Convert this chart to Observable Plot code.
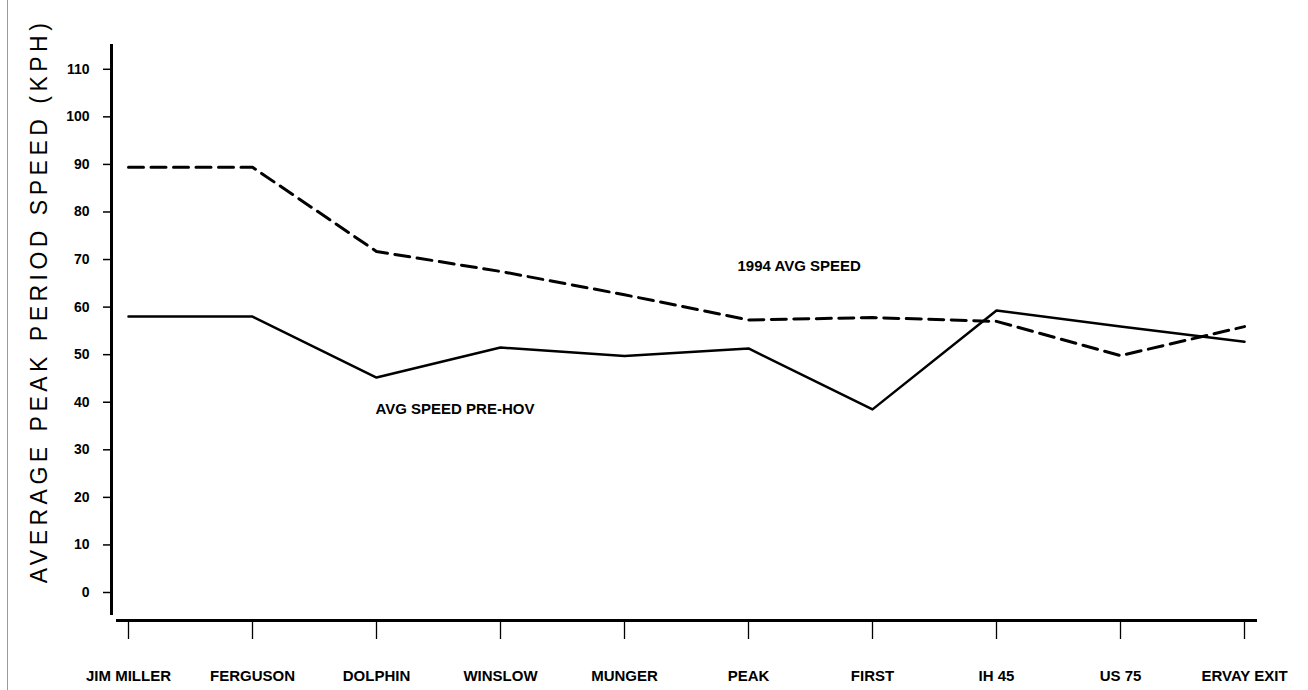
<!DOCTYPE html>
<html>
<head>
<meta charset="utf-8">
<script src="https://cdn.jsdelivr.net/npm/d3@7"></script>
<script src="https://cdn.jsdelivr.net/npm/@observablehq/plot@0.6"></script>
<style>
  html, body { margin: 0; padding: 0; background: #fff; }
  #wrap { position: relative; width: 1308px; height: 690px; overflow: hidden; }
  #edge { position: absolute; left: 7px; top: 0; width: 1px; height: 690px; background: #9a9a9a; }
  #chart svg { display: block; }
</style>
</head>
<body>
<div id="wrap"><div id="chart"></div><div id="edge"></div></div>
<script>
// ---- data ----
const stations = ["JIM MILLER", "FERGUSON", "DOLPHIN", "WINSLOW", "MUNGER", "PEAK", "FIRST", "IH 45", "US 75", "ERVAY EXIT"];
const speed1994 = [89.4, 89.4, 71.7, 67.5, 62.6, 57.3, 57.8, 57.0, 49.8, 55.9];
const speedPreHov = [58.0, 58.0, 45.2, 51.5, 49.7, 51.3, 38.5, 59.3, 55.9, 52.7];
const yTicks = [0, 10, 20, 30, 40, 50, 60, 70, 80, 90, 100, 110];
const yTitle = "AVERAGE PEAK PERIOD SPEED (KPH)";
const seriesNames = ["1994 AVG SPEED", "AVG SPEED PRE-HOV"];
// label anchors: [station, value]
const labelAnchors = [["PEAK", 68.7], ["DOLPHIN", 38.5]];

const rows = stations.map((s, i) => ({station: s, y1994: speed1994[i], pre: speedPreHov[i]}));
const labels = seriesNames.map((t, i) => ({text: t, station: labelAnchors[i][0], v: labelAnchors[i][1]}));

const font = "'Liberation Sans Narrow', 'Arial Narrow', 'Liberation Sans', Arial, sans-serif";

const chart = Plot.plot({
  width: 1308,
  height: 690,
  marginLeft: 111,
  marginRight: 53,
  marginTop: 45,
  marginBottom: 70,
  style: {fontFamily: font, background: "white", color: "black"},
  x: {type: "point", domain: stations, padding: 0, insetLeft: 13, insetRight: 7},
  y: {domain: [0, 115], insetBottom: 28},
  marks: [
    Plot.frame({anchor: "left", stroke: "black", strokeWidth: 3, insetBottom: 7}),
    Plot.frame({anchor: "bottom", stroke: "black", strokeWidth: 3, insetLeft: 6}),
    Plot.axisY({ticks: yTicks, tickSize: 8, tickPadding: 14, fontSize: 14, fontWeight: "bold", label: null, strokeWidth: 1.5}),
    Plot.axisX({tickSize: 19, tickPadding: 31, fontSize: 15, fontWeight: "bold", label: null, strokeWidth: 1.3}),
    Plot.text([yTitle], {frameAnchor: "left", textAnchor: "middle", rotate: -90, dx: -72, dy: -32, fontSize: 23, fontFamily: "'Liberation Sans', Arial, sans-serif", fill: "black"}),
    Plot.line(rows, {x: "station", y: "y1994", stroke: "black", strokeWidth: 3, strokeDasharray: "15,7.5"}),
    Plot.line(rows, {x: "station", y: "pre", stroke: "black", strokeWidth: 2.5}),
    Plot.text(labels.slice(0, 1), {x: "station", y: "v", text: "text", textAnchor: "start", dx: -11, fontSize: 15, fontWeight: "bold"}),
    Plot.text(labels.slice(1), {x: "station", y: "v", text: "text", textAnchor: "start", dx: -1, fontSize: 15, fontWeight: "bold"})
  ]
});
document.getElementById("chart").appendChild(chart);
const t = chart.querySelector('g[aria-label="text"] text');
if (t) t.style.letterSpacing = "4.5px";
</script>
</body>
</html>
